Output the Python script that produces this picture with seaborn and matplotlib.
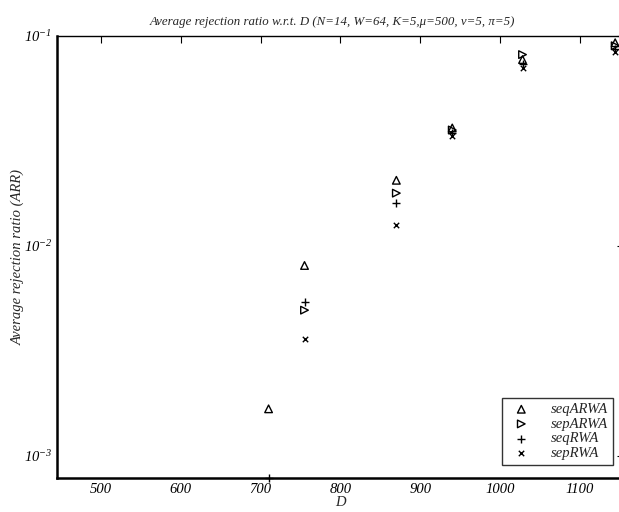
import numpy as np
import seaborn as sns
import matplotlib
matplotlib.use("Agg")
import matplotlib.pyplot as plt

# Values (NaN = not shown on the log axis)
D = [710, 755, 870, 940, 1028, 1144]
seq_arwa = [0.00167, 0.00805, 0.0205, 0.0364, 0.0771, 0.0927]
sep_arwa = [np.nan, 0.00493, 0.0178, 0.0356, 0.0814, 0.0897]
seq_rwa = [0.00078, 0.00538, 0.0160, 0.0345, 0.0738, 0.0868]
sep_rwa = [np.nan, 0.00360, 0.0126, 0.0334, 0.0706, 0.0840]

series = [
    ("seqARWA", seq_arwa, "^", True),
    ("sepARWA", sep_arwa, ">", True),
    ("seqRWA", seq_rwa, "+", False),
    ("sepRWA", sep_rwa, "x", False),
]

sns.set_style("white")
plt.rcParams["font.family"] = ["Liberation Serif", "DejaVu Serif"]
plt.rcParams["font.style"] = "italic"
plt.rcParams["mathtext.fontset"] = "custom"
plt.rcParams["mathtext.it"] = "Liberation Serif:italic"
plt.rcParams["mathtext.rm"] = "Liberation Serif:italic"
plt.rcParams["mathtext.default"] = "it"

fig = plt.figure(figsize=(6.19, 5.12), dpi=100)
# right edge of the axes runs just past the image, as in the reference
ax = fig.add_axes([0.092, 0.066, 0.916, 0.864])

for name, vals, mk, hollow in series:
    if hollow:
        sns.scatterplot(x=D, y=vals, marker=mk, s=30, color="black",
                        facecolor="none", edgecolor="black", linewidth=1.0,
                        label=name, ax=ax, clip_on=False)
    else:
        sns.scatterplot(x=D, y=vals, marker=mk, s=32 if mk == "+" else 15,
                        color="black", linewidth=1.0, label=name, ax=ax,
                        clip_on=False)

ax.set_yscale("log")
ax.set_xlim(445, 1155)
ax.set_ylim(0.00078, 0.1)
ax.set_xticks([500, 600, 700, 800, 900, 1000, 1100])

ax.tick_params(which="both", direction="in", top=True, right=True,
               labelsize=10.5, colors="black")
ax.tick_params(which="major", length=5)
ax.tick_params(which="minor", length=3)
for side in ["left", "bottom"]:
    ax.spines[side].set_linewidth(1.8)
for side in ["top", "right"]:
    ax.spines[side].set_linewidth(1.0)
for sp in ax.spines.values():
    sp.set_color("black")

ax.set_title("Average rejection ratio w.r.t. D (N=14, W=64, K=5,\u03bc=500, \u03bd=5, \u03c0=5)",
             fontsize=9.3, pad=8, x=0.485)
ax.set_xlabel("D", fontsize=10.5, labelpad=0)
ax.set_ylabel("Average rejection ratio (ARR)", fontsize=10.5, labelpad=-1)

leg = ax.legend(loc="lower right", bbox_to_anchor=(0.993, 0.013), fontsize=10.5,
                frameon=True, fancybox=False, edgecolor="black",
                handletextpad=1.0, borderpad=0.35, labelspacing=0.1,
                markerfirst=True)
leg.get_frame().set_linewidth(1.0)

fig.savefig("out.png", dpi=100)
